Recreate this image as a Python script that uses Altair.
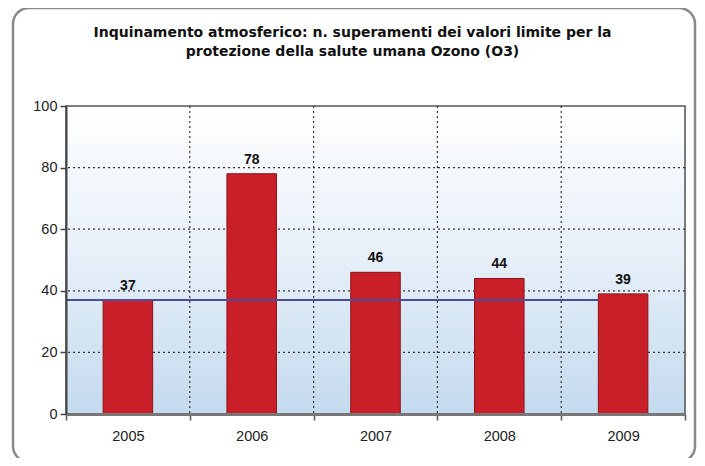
import altair as alt
import pandas as pd

# ---- data ----
years = ["2005", "2006", "2007", "2008", "2009"]
exceedances = [37, 78, 46, 44, 39]
reference_value = 37
y_ticks = [0, 20, 40, 60, 80, 100]
grid_values = [20, 40, 60, 80]
title_lines = [
    "Inquinamento atmosferico: n. superamenti dei valori limite per la",
    "protezione della salute umana Ozono (O3)",
]

W, H = 619, 308

df = pd.DataFrame({"anno": years, "valore": exceedances})
ref = pd.DataFrame({"start": [years[0]], "end": [years[-1]], "v": [reference_value]})
hgrid = pd.DataFrame({"g": grid_values})
vgrid = pd.DataFrame({"b": years[1:]})
one = pd.DataFrame({"k": [0]})

x_scale = alt.Scale(domain=years, paddingInner=0, paddingOuter=0)
y_scale = alt.Scale(domain=[0, 100])

x_axis = alt.Axis(title=None, labelAngle=0, tickBand="extent", grid=False,
                  tickSize=6, tickColor="#555", tickWidth=1.5,
                  labelPadding=9, labelFontSize=14.5, labelColor="#222",
                  labelFont="Liberation Sans",
                  domainColor="#777", domainWidth=3, zindex=1)
y_axis = alt.Axis(title=None, values=y_ticks, grid=False, tickSize=6,
                  tickColor="#444", tickWidth=1.5, labelPadding=3,
                  labelFontSize=14.5, labelColor="#222", labelFont="Liberation Sans",
                  domainColor="#444", domainWidth=2, zindex=1)

gradient = alt.LinearGradient(
    gradient="linear",
    stops=[alt.GradientStop(color="#ffffff", offset=0),
           alt.GradientStop(color="#e6eff8", offset=0.5),
           alt.GradientStop(color="#c4daee", offset=1)],
    x1=0, x2=0, y1=0, y2=1,
)

frame = alt.Chart(one).mark_rect(
    fill="transparent", stroke="#8a8a8a", strokeWidth=2.5, cornerRadius=16, clip=False
).encode(x=alt.value(-53), x2=alt.value(629), y=alt.value(-98), y2=alt.value(356))

bg = alt.Chart(one).mark_rect(color=gradient, stroke="#555", strokeWidth=1.5).encode(
    x=alt.value(0), x2=alt.value(W), y=alt.value(0), y2=alt.value(H)
)

hg = alt.Chart(hgrid).mark_rule(color="#333", strokeDash=[2, 3], strokeWidth=1.2).encode(
    y=alt.Y("g:Q", scale=y_scale, axis=y_axis)
)
vg = alt.Chart(vgrid).mark_rule(color="#333", strokeDash=[2, 3], strokeWidth=1.2).encode(
    x=alt.X("b:N", bandPosition=0, scale=x_scale, axis=x_axis)
)

bars = alt.Chart(df).mark_bar(
    width=alt.RelativeBandSize(0.4), color="#c91f28", stroke="#8a1218", strokeWidth=1
).encode(
    x=alt.X("anno:N", scale=x_scale, axis=x_axis, sort=years),
    y=alt.Y("valore:Q", scale=y_scale, axis=y_axis),
)

rule = alt.Chart(ref).mark_rule(color="#4b4ea0", strokeWidth=2).encode(
    x=alt.X("start:N", bandPosition=0, scale=x_scale),
    x2=alt.X2("end:N", bandPosition=0.3),
    y=alt.Y("v:Q", scale=y_scale),
)

labels = alt.Chart(df).mark_text(
    dy=-7, baseline="bottom", fontSize=14, fontWeight="bold",
    font="Liberation Sans", color="#111"
).encode(
    x=alt.X("anno:N", scale=x_scale),
    y=alt.Y("valore:Q", scale=y_scale),
    text=alt.Text("valore:Q"),
)

chart = alt.layer(frame, bg, hg, vg, bars, rule, labels).properties(
    width=W, height=H,
    autosize=alt.AutoSizeParams(type="none"),
    padding={"left": 58, "top": 98, "right": 12, "bottom": 44},
    title=alt.TitleParams(
        text=title_lines, anchor="middle", dx=-23, offset=-52,
        fontSize=14, fontWeight="bold", font="DejaVu Sans",
        lineHeight=19, color="#111",
    ),
).configure_view(stroke="#555", strokeWidth=1.5).configure(background="white")

chart.save("out.html", embed_options={"renderer": "svg", "actions": False})
